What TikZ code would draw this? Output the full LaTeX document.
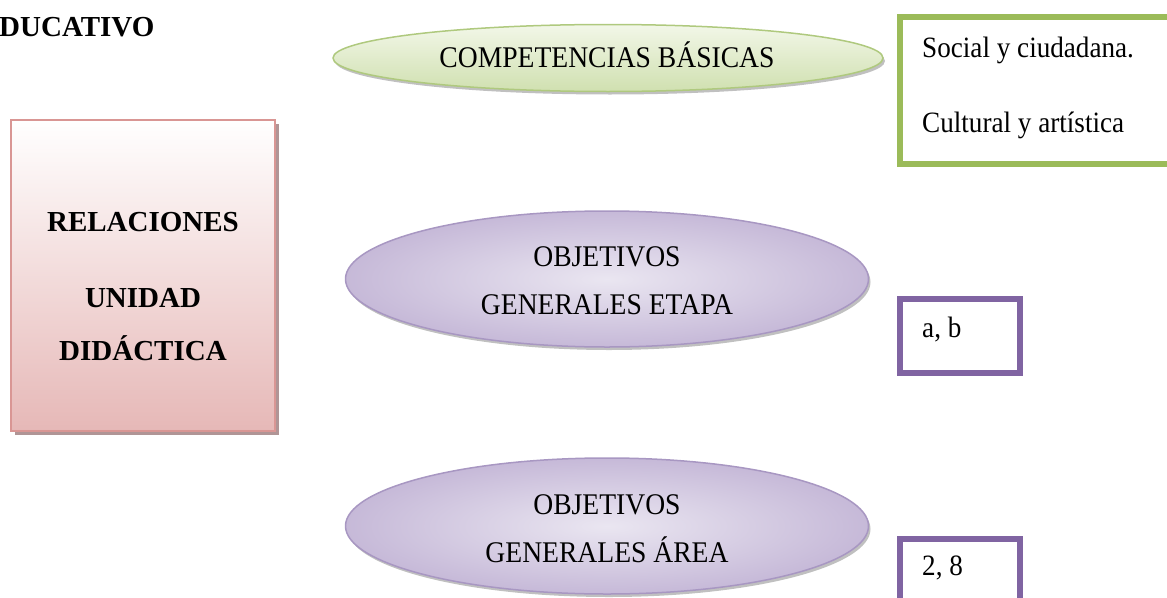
\documentclass[tikz,border=0pt]{standalone}
\usepackage{fontspec}
\setmainfont{Liberation Serif}
\newfontfamily\narrowserif{Liberation Serif}[FakeStretch=0.92]
\usetikzlibrary{shapes.geometric,shadows}
\definecolor{grnline}{HTML}{9BBB59}
\definecolor{grnell}{HTML}{AFC97E}
\definecolor{grnlight}{HTML}{F2F7E8}
\definecolor{grndark}{HTML}{D0E0B0}
\definecolor{purline}{HTML}{8064A2}
\definecolor{purell}{HTML}{A897C2}
\definecolor{purlight}{HTML}{EAE6F1}
\definecolor{purdark}{HTML}{C6B9D8}
\definecolor{pinkline}{HTML}{D99694}
\definecolor{pinkdark}{HTML}{E6B8B7}
\definecolor{pinkshadow}{HTML}{B09596}
\begin{document}
\begin{tikzpicture}[x=1pt,y=-1pt,
  txt/.style={font=\narrowserif\fontsize{30}{48}\selectfont, inner sep=0pt, align=center},
  btxt/.style={font=\fontsize{29}{34}\selectfont\bfseries, inner sep=0pt},
  ltxt/.style={font=\narrowserif\fontsize{29.5}{34}\selectfont, inner sep=0pt, anchor=west},
  greenell/.style={ellipse, draw=grnell, line width=1.5pt, top color=grnlight, bottom color=grndark,
    drop shadow={shadow xshift=2pt, shadow yshift=-3pt, fill=black!45, opacity=.55},
    minimum width=550pt, minimum height=67pt, inner sep=0pt},
  purpell/.style={ellipse, draw=purell, line width=1.5pt, inner color=purlight, outer color=purdark,
    drop shadow={shadow xshift=2pt, shadow yshift=-3pt, fill=black!45, opacity=.55},
    minimum width=523pt, minimum height=136pt, inner sep=0pt},
  pinkbox/.style={rectangle, draw=pinkline, line width=2pt, top color=white, bottom color=pinkdark,
    drop shadow={shadow xshift=4pt, shadow yshift=-4pt, fill=pinkshadow, opacity=1},
    minimum width=264pt, minimum height=311pt, inner sep=0pt},
  greenframe/.style={draw=grnline, line width=6pt},
  purframe/.style={draw=purline, line width=6pt}
]
\useasboundingbox (0,0) rectangle (1167,597);
\clip (0,0) rectangle (1167,597);

% title fragment
\node[btxt, anchor=base west] (title) at (-1,36) {DUCATIVO};

% pink box
\node[pinkbox] (rel) at (143,275.5) {};
\node[btxt] (t1) at (143,222) {RELACIONES};
\node[btxt] (t2) at (143,298) {UNIDAD};
\node[btxt] (t3) at (143,348) {DIDÁCTICA};

% green ellipse
\node[greenell] (comp) at (608,58) {};
\node[txt] (comptxt) at (607,55) {COMPETENCIAS BÁSICAS};

% green frame
\draw[greenframe] (900,17) rectangle (1190,164);
\node[ltxt] (s1) at (922,50) {Social y ciudadana.};
\node[ltxt] (s2) at (922,125) {Cultural y artística};

% purple ellipse 1
\node[purpell] (obj1) at (607,279) {};
\node[txt] (obj1txt) at (607,281) {OBJETIVOS\\GENERALES ETAPA};

% purple ellipse 2
\node[purpell] (obj2) at (607,526) {};
\node[txt] (obj2txt) at (607,529) {OBJETIVOS\\GENERALES ÁREA};

% purple frames
\draw[purframe] (900,299) rectangle (1020,373);
\node[ltxt] (ab) at (922,330) {a, b};
\draw[purframe] (900,539) rectangle (1020,640);
\node[ltxt] (dos) at (922,568) {2, 8};
\end{tikzpicture}
\end{document}
